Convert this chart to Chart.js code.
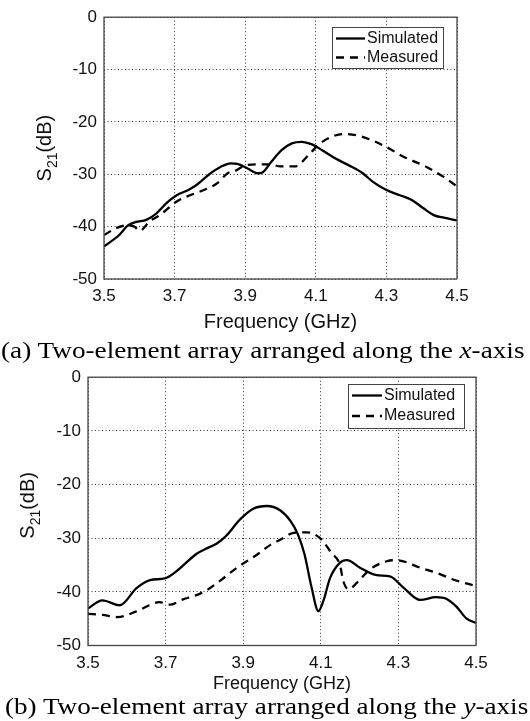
<!DOCTYPE html>
<html>
<head>
<meta charset="utf-8">
<script src="https://cdn.jsdelivr.net/npm/chart.js@4.4.1/dist/chart.umd.min.js"></script>
<style>
  html, body { margin: 0; padding: 0; background: #fff; }
  body { width: 530px; height: 721px; position: relative; overflow: hidden; }
  canvas { position: absolute; left: 0; }
  .caption {
    position: absolute;
    font-family: "Liberation Serif", "Times New Roman", serif;
    font-size: 24px;
    line-height: 24px;
    color: #000;
    white-space: nowrap;
    transform-origin: left center;
  }
</style>
</head>
<body>
<canvas id="chart-a" width="530" height="340" style="top:0"></canvas>
<div class="caption" style="left:1px; top:338px; transform:scaleX(1.134)">(a) Two-element array arranged along the <i>x</i>-axis</div>
<canvas id="chart-b" width="530" height="340" style="top:360px"></canvas>
<div class="caption" style="left:5px; top:694px; transform:scaleX(1.13)">(b) Two-element array arranged along the <i>y</i>-axis</div>

<script>
// axis ticks
const freqTicks = [3.5, 3.7, 3.9, 4.1, 4.3, 4.5];
const dbTicks = [0, -10, -20, -30, -40, -50];
const seriesNames = ['Simulated', 'Measured'];

// (a) along x-axis
const simAFreq = [3.50, 3.543, 3.567, 3.591, 3.620, 3.648, 3.677, 3.706, 3.739, 3.763, 3.802, 3.830, 3.859, 3.878, 3.907, 3.936, 3.950, 3.974, 4.003, 4.032, 4.060, 4.089, 4.118, 4.156, 4.194, 4.233, 4.261, 4.300, 4.338, 4.372, 4.405, 4.434, 4.463, 4.500];
const simADb = [-43.8, -41.6, -39.8, -39.1, -38.7, -37.5, -35.5, -34.0, -33.0, -32.0, -29.8, -28.6, -27.9, -28.0, -28.9, -29.8, -29.6, -27.6, -25.4, -24.1, -23.8, -24.3, -25.4, -27.0, -28.3, -29.8, -31.4, -33.0, -34.0, -34.9, -36.5, -37.8, -38.3, -38.8];
const measAFreq = [3.50, 3.534, 3.562, 3.586, 3.601, 3.629, 3.658, 3.706, 3.744, 3.783, 3.821, 3.850, 3.870, 3.900, 3.930, 3.970, 4.000, 4.040, 4.080, 4.107, 4.146, 4.180, 4.230, 4.300, 4.347, 4.414, 4.460, 4.500];
const measADb = [-41.6, -40.3, -39.8, -40.0, -40.8, -39.0, -37.8, -35.2, -34.0, -33.0, -31.7, -29.8, -29.4, -28.3, -28.1, -28.1, -28.5, -28.5, -26.3, -24.4, -22.8, -22.3, -22.8, -24.8, -26.6, -28.6, -30.4, -32.3];

// (b) along y-axis
const simBFreq = [3.50, 3.537, 3.582, 3.625, 3.660, 3.698, 3.729, 3.780, 3.806, 3.832, 3.857, 3.892, 3.926, 3.961, 3.995, 4.023, 4.041, 4.058, 4.076, 4.094, 4.107, 4.124, 4.149, 4.167, 4.201, 4.244, 4.278, 4.313, 4.356, 4.397, 4.423, 4.450, 4.476, 4.500];
const simBDb = [-43.1, -41.6, -42.5, -39.3, -37.8, -37.5, -36.1, -32.9, -31.9, -31.0, -29.5, -26.5, -24.5, -24.0, -24.8, -26.9, -29.3, -33.0, -39.1, -43.6, -41.6, -37.4, -34.6, -34.1, -35.5, -36.9, -37.1, -39.2, -41.5, -41.0, -41.3, -42.8, -45.0, -45.8];
const measBFreq = [3.50, 3.537, 3.576, 3.623, 3.658, 3.684, 3.710, 3.745, 3.780, 3.806, 3.841, 3.884, 3.937, 3.971, 3.995, 4.030, 4.064, 4.098, 4.128, 4.149, 4.158, 4.171, 4.201, 4.227, 4.270, 4.296, 4.356, 4.400, 4.441, 4.500];
const measBDb = [-44.1, -44.3, -44.7, -43.7, -42.5, -41.9, -42.4, -41.4, -40.6, -39.7, -37.9, -35.5, -33.0, -31.2, -30.3, -29.0, -28.9, -30.0, -32.8, -34.9, -38.0, -39.5, -37.7, -35.8, -34.3, -34.1, -35.5, -36.5, -37.7, -38.9];

const family = '"Liberation Sans", Arial, Helvetica, sans-serif';
const ink = '#111';

function toPoints(xs, ys) {
    return xs.map((x, i) => ({x: x, y: ys[i]}));
}

// box around the plot area, MATLAB style
const framePlugin = {
    id: 'frame',
    afterDatasetsDraw(chart) {
        const {ctx, chartArea: a} = chart;
        ctx.save();
        ctx.strokeStyle = '#444';
        ctx.lineWidth = 1.3;
        ctx.strokeRect(a.left, a.top, a.right - a.left, a.bottom - a.top);
        ctx.restore();
    }
};

// rotated "S21(dB)" with a real subscript
const yTitlePlugin = {
    id: 'yTitle',
    afterDraw(chart, args, opts) {
        const {ctx, chartArea: a} = chart;
        const big = opts.size + 'px ' + family;
        const small = Math.round(opts.size * 0.7) + 'px ' + family;
        ctx.save();
        ctx.beginPath();
        ctx.rect(opts.clipLeft, 0, chart.width, chart.height);
        ctx.clip();
        ctx.translate(opts.x, (a.top + a.bottom) / 2 + opts.shift);
        ctx.rotate(-Math.PI / 2);
        ctx.fillStyle = ink;
        ctx.textBaseline = 'alphabetic';
        ctx.font = big;
        const wS = ctx.measureText('S').width;
        const wRest = ctx.measureText('(dB)').width;
        ctx.font = small;
        const wSub = ctx.measureText('21').width;
        let x0 = -(wS + wSub + wRest) / 2;
        ctx.font = big;
        ctx.fillText('S', x0, 0);
        ctx.font = small;
        ctx.fillText('21', x0 + wS, opts.size * 0.3);
        ctx.font = big;
        ctx.fillText('(dB)', x0 + wS + wSub, 0);
        ctx.restore();
    }
};

// legend with a frame, top right inside the axes
const boxLegendPlugin = {
    id: 'boxLegend',
    afterDraw(chart, args, opts) {
        const {ctx} = chart;
        ctx.save();
        ctx.fillStyle = '#fff';
        ctx.fillRect(opts.left, opts.top, opts.width, opts.height);
        ctx.strokeStyle = '#444';
        ctx.lineWidth = 1;
        ctx.strokeRect(opts.left + 0.5, opts.top + 0.5, opts.width, opts.height);
        ctx.font = opts.fontSize + 'px ' + family;
        ctx.textBaseline = 'middle';
        chart.data.datasets.forEach((ds, i) => {
            const y = opts.top + opts.rowY[i];
            ctx.strokeStyle = ds.borderColor;
            ctx.lineWidth = ds.borderWidth;
            ctx.setLineDash(ds.borderDash || []);
            ctx.beginPath();
            ctx.moveTo(opts.left + opts.lineStart, y);
            ctx.lineTo(opts.left + opts.lineEnd, y);
            ctx.stroke();
            ctx.setLineDash([]);
            ctx.fillStyle = ink;
            ctx.fillText(ds.label, opts.left + opts.textX, y);
        });
        ctx.restore();
    }
};

function s21Chart(canvasId, sim, meas, look) {
    return new Chart(document.getElementById(canvasId), {
        type: 'line',
        data: {
            datasets: [
                {
                    label: seriesNames[0],
                    data: sim,
                    borderColor: '#000',
                    borderWidth: 2.3,
                    pointRadius: 0,
                    cubicInterpolationMode: 'monotone'
                },
                {
                    label: seriesNames[1],
                    data: meas,
                    borderColor: '#000',
                    borderWidth: 2.3,
                    borderDash: [8, 6],
                    pointRadius: 0,
                    cubicInterpolationMode: 'monotone'
                }
            ]
        },
        options: {
            responsive: false,
            animation: false,
            layout: {padding: look.padding},
            scales: {
                x: {
                    type: 'linear',
                    min: 3.5,
                    max: 4.5,
                    afterBuildTicks: s => { s.ticks = freqTicks.map(v => ({value: v})); },
                    afterFit: s => { s.height = look.xHeight; },
                    ticks: {
                        callback: v => v.toFixed(1),
                        padding: look.xTickPad,
                        maxRotation: 0,
                        color: ink,
                        font: {family: family, size: 17}
                    },
                    grid: {color: '#333', lineWidth: 1, drawTicks: false},
                    border: {display: false, dash: [1, 2.5]},
                    title: {
                        display: true,
                        text: 'Frequency (GHz)',
                        color: ink,
                        padding: 0,
                        font: {family: family, size: look.titleSize}
                    }
                },
                y: {
                    min: -50,
                    max: 0,
                    afterBuildTicks: s => { s.ticks = dbTicks.map(v => ({value: v})); },
                    afterFit: s => { s.width = look.yWidth; },
                    ticks: {
                        callback: v => String(v),
                        padding: 7,
                        color: ink,
                        font: {family: family, size: 17}
                    },
                    grid: {color: '#333', lineWidth: 1, drawTicks: false},
                    border: {display: false, dash: [1, 2.5]}
                }
            },
            plugins: {
                legend: {display: false},
                tooltip: {enabled: false},
                yTitle: look.yTitle,
                boxLegend: look.legend
            }
        },
        plugins: [framePlugin, yTitlePlugin, boxLegendPlugin]
    });
}

s21Chart('chart-a', toPoints(simAFreq, simADb), toPoints(measAFreq, measADb), {
    padding: {left: 0, right: 73, top: 15, bottom: 6},
    yWidth: 104,
    xHeight: 55,
    xTickPad: 7,
    titleSize: 20,
    yTitle: {x: 51, shift: 0, size: 20, clipLeft: 0},
    legend: {left: 332, top: 27, width: 111, height: 41, lineStart: 4, lineEnd: 33, textX: 35, rowY: [11.5, 30.5], fontSize: 16}
});

s21Chart('chart-b', toPoints(simBFreq, simBDb), toPoints(measBFreq, measBDb), {
    padding: {left: 0, right: 54, top: 13, bottom: 5},
    yWidth: 88,
    xHeight: 49.5,
    xTickPad: 8,
    titleSize: 18,
    yTitle: {x: 34, shift: -6, size: 20, clipLeft: 20},
    legend: {left: 348, top: 24, width: 116, height: 44, lineStart: 4, lineEnd: 34, textX: 36, rowY: [11.5, 32], fontSize: 16}
});
</script>
</body>
</html>
